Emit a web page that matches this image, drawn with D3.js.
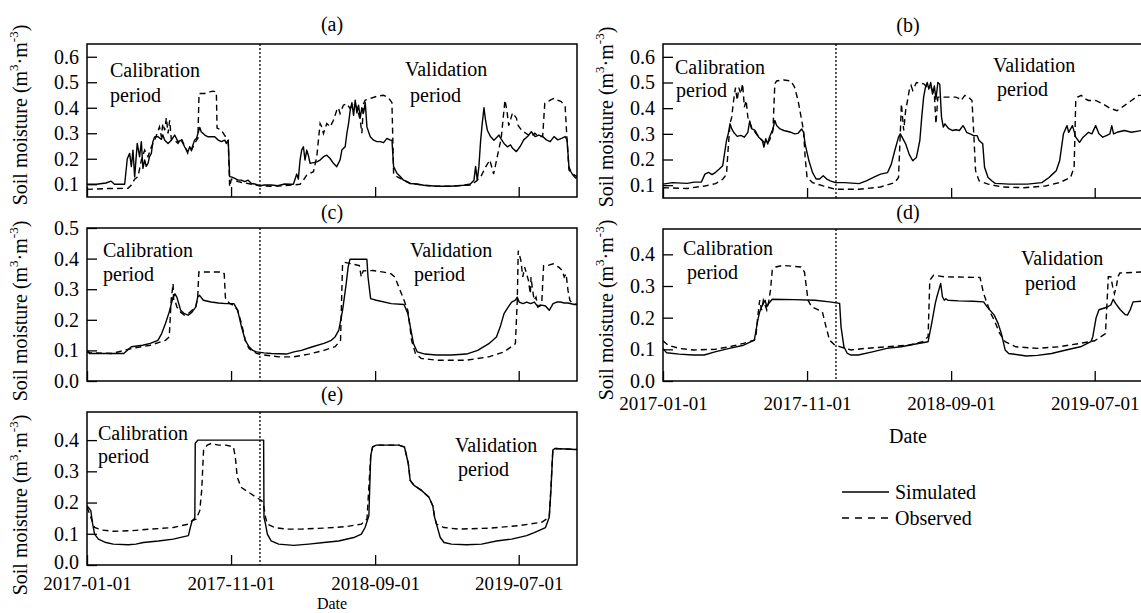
<!DOCTYPE html>
<html><head><meta charset="utf-8">
<script src="https://cdn.jsdelivr.net/npm/d3@7"></script>
<style>
body{margin:0;background:#fff}
svg{display:block}
text{font-family:"Liberation Serif","Times New Roman",serif;fill:#000}
</style>
</head><body>
<svg id="chart" width="1141" height="613"></svg>
<script>
// ---------- data (day offset from 2017-01-01, soil moisture m3/m3) ----------
const startDate = "2017-01-01";
const endDate = "2019-11-01";
const splitDate = "2018-01-01";
const xTickLabels = ["2017-01-01", "2017-11-01", "2018-09-01", "2019-07-01"];
const yTicksAB = [0.1, 0.2, 0.3, 0.4, 0.5, 0.6];
const yTicksC = [0.0, 0.1, 0.2, 0.3, 0.4, 0.5];
const yTicksDE = [0.0, 0.1, 0.2, 0.3, 0.4];
const seriesNames = ["Simulated", "Observed"];
const panelTitles = ["(a)", "(b)", "(c)", "(d)", "(e)"];

const simA = [[0,0.10],[20,0.10],[40,0.105],[51,0.112],[58,0.10],[79.5,0.10],[85,0.20],[90,0.221],[93.6,0.169],[97,0.234],[100.6,0.129],[106,0.26],[111,0.208],[114.7,0.267],[118,0.162],[121.7,0.195],[125,0.17],[128.8,0.182],[132,0.208],[135.8,0.221],[139,0.267],[142.9,0.286],[150,0.286],[157,0.276],[160,0.293],[164,0.273],[171,0.26],[178,0.273],[185,0.293],[192,0.267],[199,0.273],[206,0.247],[213,0.227],[216.7,0.247],[220,0.234],[227,0.273],[231,0.28],[238,0.323],[241,0.306],[248.6,0.293],[255.4,0.286],[263,0.286],[269.5,0.286],[277,0.273],[283.6,0.267],[291,0.273],[294,0.26],[298,0.273],[301,0.13],[304.7,0.129],[312,0.123],[318.8,0.116],[325.8,0.116],[333,0.11],[340,0.116],[347,0.103],[354,0.101],[364.5,0.094],[375,0.097],[389,0.097],[403,0.094],[417,0.101],[428.5,0.10],[435.5,0.10],[442.6,0.14],[446,0.12],[449.6,0.195],[453,0.234],[456.7,0.247],[460,0.195],[463.7,0.234],[467,0.214],[470.8,0.182],[477.8,0.185],[484.9,0.188],[491.9,0.195],[499,0.208],[506,0.214],[513,0.201],[520,0.182],[527,0.169],[534,0.195],[537.8,0.234],[544.8,0.247],[548.4,0.30],[551.9,0.338],[555.4,0.39],[559,0.42],[562.5,0.37],[566,0.43],[569.5,0.38],[573,0.41],[576.6,0.36],[580,0.40],[583.6,0.38],[587.2,0.42],[590.7,0.325],[597.7,0.286],[604.8,0.273],[611.8,0.267],[618.8,0.267],[625.9,0.263],[632.9,0.28],[640,0.273],[643.5,0.273],[647,0.169],[654,0.143],[661,0.13],[668,0.116],[675,0.11],[682,0.103],[696.7,0.101],[710.6,0.096],[738.8,0.092],[767,0.092],[795,0.096],[809,0.101],[816.6,0.116],[820,0.17],[823.6,0.116],[827,0.17],[830.7,0.273],[834,0.338],[837.7,0.40],[841,0.351],[844.8,0.312],[851.8,0.286],[858.8,0.273],[865.9,0.286],[869.4,0.293],[873,0.28],[880,0.26],[887,0.247],[894,0.254],[898,0.241],[906,0.228],[914,0.248],[921.6,0.274],[929.6,0.287],[937.6,0.306],[945.6,0.287],[953.5,0.293],[961.5,0.287],[969.5,0.274],[977.5,0.267],[985.5,0.287],[993.4,0.274],[1001.4,0.28],[1009,0.287],[1013,0.274],[1017,0.169],[1021,0.15],[1025,0.137],[1031,0.124],[1034,0.13]];
const obsA = [[0,0.08],[40,0.083],[86.6,0.084],[93.6,0.097],[100.6,0.12],[107.7,0.13],[114.7,0.195],[121.7,0.234],[128.8,0.208],[135.8,0.247],[142.9,0.273],[153,0.325],[157,0.286],[160,0.338],[164,0.312],[167.5,0.36],[171,0.299],[174.5,0.351],[178,0.273],[185,0.273],[192,0.26],[199,0.28],[206,0.25],[213,0.22],[220,0.23],[227,0.26],[234,0.28],[236.4,0.456],[248.6,0.456],[259,0.462],[266,0.465],[273,0.462],[274.4,0.32],[283.6,0.312],[291,0.29],[298,0.273],[301,0.09],[304.7,0.12],[312,0.116],[318.8,0.11],[333,0.105],[347,0.10],[364.5,0.094],[389,0.092],[417,0.094],[449.6,0.10],[456.7,0.116],[463.7,0.136],[470.8,0.143],[477.8,0.149],[484.9,0.208],[488.3,0.273],[491.9,0.338],[495.4,0.325],[499,0.299],[506,0.338],[513,0.325],[520,0.351],[527,0.39],[530.5,0.40],[534,0.377],[541,0.41],[548,0.416],[555,0.397],[562.5,0.416],[569.5,0.403],[576.6,0.351],[580,0.30],[583.6,0.416],[587.2,0.43],[597.7,0.436],[611.8,0.445],[625.9,0.449],[636,0.44],[643.5,0.42],[647,0.14],[654,0.13],[668,0.116],[682,0.103],[710.6,0.096],[738.8,0.092],[767,0.092],[809,0.097],[820,0.11],[830.7,0.129],[842,0.17],[850,0.195],[858,0.14],[866,0.21],[874,0.28],[882,0.43],[886,0.39],[890,0.33],[898,0.38],[906,0.36],[910,0.33],[918,0.31],[926,0.30],[937,0.287],[945,0.30],[953,0.287],[961.5,0.287],[966,0.417],[977.5,0.43],[985.5,0.437],[993,0.43],[1001,0.424],[1009,0.404],[1013,0.274],[1017,0.156],[1025,0.14],[1034,0.13]];

const simB = [[0,0.104],[20,0.11],[51,0.107],[66,0.112],[81,0.112],[88.5,0.143],[96,0.15],[103.6,0.141],[111,0.15],[118.8,0.163],[126,0.176],[134,0.274],[137.7,0.30],[141.4,0.339],[145,0.32],[149,0.306],[156.6,0.29],[164,0.294],[171.7,0.287],[179,0.306],[183,0.35],[186.8,0.32],[194.4,0.313],[202,0.287],[209.5,0.274],[213,0.248],[217,0.281],[221,0.26],[224.6,0.287],[232,0.319],[236,0.352],[239.8,0.332],[247,0.319],[255,0.313],[270,0.306],[277.6,0.30],[285,0.302],[292.7,0.319],[296.5,0.306],[300,0.26],[307.9,0.195],[315.4,0.15],[323,0.124],[330.5,0.124],[338,0.137],[345.7,0.124],[353,0.117],[363.8,0.11],[383.5,0.11],[413.7,0.106],[429,0.117],[444,0.13],[459,0.143],[474,0.149],[481.8,0.182],[489,0.234],[497,0.287],[500.7,0.30],[504.5,0.287],[512,0.261],[519.6,0.22],[527,0.195],[534.8,0.208],[542,0.274],[546,0.365],[550,0.443],[553.7,0.48],[557.5,0.50],[561,0.474],[565,0.50],[568.8,0.455],[572.6,0.487],[576,0.435],[580,0.50],[584,0.493],[587.7,0.365],[591.5,0.326],[595,0.339],[603,0.32],[610.5,0.313],[618,0.316],[625.5,0.313],[633,0.332],[637,0.32],[640.7,0.306],[648,0.30],[655.8,0.293],[663,0.293],[667,0.274],[674.7,0.261],[678.5,0.17],[686,0.13],[693.6,0.117],[701,0.107],[731,0.104],[769,0.104],[799.5,0.11],[814.6,0.13],[822,0.143],[829.8,0.156],[837,0.195],[845,0.30],[852.6,0.332],[856,0.306],[864,0.332],[871,0.287],[879,0.267],[886.5,0.287],[898,0.306],[905,0.30],[913,0.332],[920,0.30],[928,0.287],[935.5,0.293],[943,0.30],[947,0.332],[950.8,0.30],[958,0.306],[973.5,0.313],[988.6,0.306],[1010,0.313],[1034,0.31]];
const obsB = [[0,0.09],[51,0.087],[88.5,0.097],[111,0.106],[126,0.123],[134,0.143],[137.7,0.248],[141.4,0.34],[145,0.365],[149,0.43],[153,0.48],[156.6,0.43],[160,0.48],[164,0.456],[168,0.495],[171.7,0.404],[175.5,0.43],[179,0.365],[186.8,0.326],[194.4,0.306],[202,0.287],[209.5,0.274],[217,0.26],[224.6,0.274],[232,0.313],[236,0.495],[239.8,0.506],[255,0.51],[270,0.506],[277.6,0.482],[285,0.43],[292.7,0.352],[296.5,0.313],[300,0.208],[304,0.13],[315.4,0.11],[338,0.097],[363.8,0.084],[413.7,0.084],[459,0.093],[489,0.11],[497,0.13],[500.7,0.30],[503,0.417],[508,0.313],[512,0.391],[516,0.43],[519.6,0.469],[523.5,0.488],[527,0.469],[534.8,0.50],[550,0.495],[557.5,0.482],[565,0.482],[572.6,0.456],[576,0.339],[580,0.443],[595,0.443],[618,0.443],[625.5,0.437],[629,0.43],[637,0.45],[644.6,0.443],[652,0.43],[655.8,0.30],[659.6,0.156],[667,0.117],[686,0.104],[716,0.093],[762,0.09],[807,0.097],[837,0.11],[860,0.13],[867.6,0.17],[871,0.43],[875,0.443],[882.7,0.45],[890,0.437],[898,0.43],[913,0.43],[928,0.417],[943,0.40],[958,0.39],[973.5,0.41],[988.6,0.43],[1003.7,0.45],[1034,0.45]];

const simC = [[0,0.095],[5.6,0.09],[40,0.09],[77.6,0.09],[93.6,0.112],[117.6,0.117],[133.6,0.123],[149.6,0.133],[157.6,0.155],[165.6,0.188],[173.6,0.226],[177.6,0.25],[181.6,0.274],[185.6,0.285],[189.6,0.274],[193.6,0.253],[197.6,0.231],[205.6,0.22],[213.6,0.215],[221.6,0.225],[229.6,0.242],[233.6,0.274],[237.6,0.28],[245.6,0.264],[261.6,0.258],[277.6,0.255],[293.6,0.253],[310,0.253],[318,0.231],[326,0.177],[334,0.133],[341.9,0.112],[349.8,0.10],[357.7,0.095],[373.5,0.092],[389,0.09],[420.9,0.088],[436.7,0.095],[452.5,0.10],[476,0.112],[500,0.123],[515.6,0.133],[523.5,0.144],[531.4,0.166],[539.3,0.231],[547,0.318],[551,0.372],[555,0.398],[590.6,0.398],[593,0.34],[598.5,0.269],[610.4,0.264],[642,0.253],[669,0.25],[677,0.221],[685,0.155],[689,0.122],[697,0.095],[713,0.088],[737,0.085],[769,0.085],[800.6,0.088],[824.5,0.10],[848,0.122],[864,0.144],[872,0.177],[880,0.22],[888,0.24],[896,0.258],[904,0.264],[908,0.274],[912,0.258],[920,0.253],[928,0.258],[936,0.253],[944,0.258],[951.6,0.242],[959.6,0.248],[967.5,0.245],[975.5,0.231],[983.5,0.253],[991.5,0.258],[999,0.258],[1007,0.255],[1015,0.255],[1028.6,0.25],[1034,0.25]];
const obsC = [[0,0.10],[5.6,0.092],[53.6,0.09],[93.6,0.106],[133.6,0.117],[165.6,0.133],[173.6,0.144],[177.6,0.264],[181.6,0.318],[183,0.264],[185.6,0.264],[189.6,0.242],[197.6,0.225],[205.6,0.215],[213.6,0.22],[229.6,0.242],[233.6,0.274],[236,0.356],[285.6,0.356],[289.6,0.35],[292,0.274],[293.6,0.264],[301.6,0.253],[310,0.247],[318,0.231],[326,0.188],[334,0.133],[341.9,0.106],[357.7,0.09],[373.5,0.085],[405,0.079],[436.7,0.079],[468,0.088],[500,0.10],[523.5,0.112],[535,0.133],[539.3,0.383],[543,0.388],[574.8,0.377],[578.8,0.34],[582.7,0.36],[602.4,0.361],[626,0.356],[642,0.35],[650,0.339],[658,0.307],[669,0.264],[677,0.231],[685,0.133],[693,0.09],[705,0.074],[737,0.068],[800.6,0.068],[848,0.079],[880,0.095],[904,0.122],[908,0.264],[910,0.426],[915.6,0.394],[919.6,0.34],[923.6,0.372],[931.5,0.329],[935.5,0.285],[937,0.34],[939.5,0.307],[943.5,0.264],[947.5,0.274],[951.6,0.242],[959.6,0.253],[963.5,0.377],[971.5,0.377],[983.5,0.383],[995.4,0.372],[1003,0.361],[1007,0.34],[1011,0.35],[1015,0.296],[1019,0.264],[1023,0.255],[1034,0.25]];

const simD = [[0,0.103],[7.6,0.089],[34,0.085],[64,0.082],[87,0.082],[109.6,0.092],[140,0.103],[170,0.113],[192.8,0.129],[200,0.192],[204,0.218],[208,0.234],[215.5,0.255],[219,0.234],[223,0.245],[230.6,0.258],[276,0.257],[321,0.255],[351.5,0.25],[372.7,0.245],[375.7,0.171],[381.8,0.108],[389,0.087],[397,0.082],[412,0.082],[442,0.092],[472.5,0.103],[502.7,0.108],[533,0.117],[559.4,0.124],[567,0.182],[574.6,0.245],[578,0.266],[582,0.287],[586,0.308],[589.7,0.266],[593.5,0.255],[597,0.26],[601,0.255],[623.7,0.253],[654,0.252],[676.6,0.25],[684,0.234],[699,0.208],[707,0.182],[714,0.15],[722,0.098],[729.5,0.087],[767,0.079],[790,0.081],[820,0.087],[850.5,0.098],[881,0.108],[903,0.124],[907,0.14],[914,0.20],[920,0.225],[935,0.232],[945,0.24],[950,0.258],[955,0.245],[965,0.225],[975,0.21],[980,0.208],[986,0.225],[992,0.25],[1010,0.252],[1034,0.252]];
const obsD = [[0,0.127],[11,0.113],[34,0.103],[64,0.098],[109.6,0.10],[140,0.108],[170,0.119],[192.8,0.129],[196.6,0.15],[200,0.203],[204,0.255],[208,0.224],[211.7,0.255],[219,0.224],[223,0.25],[226.8,0.287],[230.6,0.35],[238,0.36],[253,0.365],[291,0.36],[298.6,0.344],[306,0.255],[313.7,0.234],[328.9,0.224],[336.4,0.218],[344,0.171],[351.5,0.129],[363,0.113],[374,0.108],[397,0.098],[427,0.103],[472.5,0.108],[518,0.113],[548,0.124],[559.4,0.14],[563,0.318],[570.8,0.334],[593.5,0.329],[669,0.327],[676.6,0.276],[684,0.245],[691.7,0.213],[699,0.192],[710.6,0.15],[722,0.124],[744.7,0.108],[790,0.103],[835,0.108],[881,0.119],[911,0.127],[933.7,0.15],[939.7,0.329],[945,0.329],[949,0.297],[952.6,0.276],[956.6,0.297],[960,0.329],[964,0.341],[1007.7,0.344],[1034,0.344]];

const simE = [[0,0.19],[8,0.174],[12,0.131],[16,0.099],[24,0.083],[40,0.072],[55.5,0.067],[87,0.065],[103,0.067],[119,0.072],[150.7,0.077],[182,0.083],[214,0.094],[218,0.12],[222,0.142],[226,0.147],[227.6,0.153],[228.4,0.39],[234,0.40],[372.7,0.40],[373.5,0.153],[376.7,0.131],[380.6,0.099],[388.6,0.077],[404.4,0.067],[436,0.063],[468,0.067],[499.6,0.072],[531,0.077],[563,0.088],[579,0.099],[586.8,0.12],[594.8,0.158],[598.7,0.35],[602.7,0.378],[610.6,0.384],[658,0.384],[670,0.378],[678,0.325],[682,0.271],[690,0.255],[698,0.247],[705.8,0.239],[713.7,0.228],[721.6,0.217],[729.6,0.19],[733.5,0.153],[737.5,0.131],[745.4,0.088],[753.4,0.072],[769,0.067],[801,0.065],[832.6,0.067],[864,0.077],[896,0.083],[927.8,0.094],[943.7,0.104],[967.5,0.12],[975.4,0.153],[979,0.239],[983,0.368],[987,0.373],[1031,0.37],[1034,0.37]];
const obsE = [[0,0.185],[8,0.153],[16,0.12],[31.7,0.112],[55.5,0.108],[95,0.11],[135,0.115],[182,0.12],[214,0.131],[222,0.142],[230,0.147],[238,0.174],[242,0.239],[246,0.368],[253.8,0.384],[261.7,0.389],[277.6,0.384],[293.4,0.384],[309,0.378],[313,0.346],[317,0.282],[325,0.249],[341,0.233],[357,0.217],[368.7,0.206],[372.7,0.19],[376.7,0.153],[380.6,0.131],[396.5,0.12],[420,0.115],[452,0.115],[499.6,0.118],[547,0.123],[579,0.131],[590.8,0.147],[598.7,0.35],[602.7,0.378],[610.6,0.384],[658,0.384],[670,0.378],[678,0.325],[682,0.271],[690,0.255],[705.8,0.239],[721.6,0.217],[729.6,0.19],[733.5,0.153],[737.5,0.131],[753.4,0.12],[785,0.115],[848.5,0.118],[912,0.126],[959.5,0.137],[975.4,0.153],[979,0.25],[983,0.368],[987,0.373],[1031,0.37],[1034,0.37]];

// ---------- layout ----------
const FONT = 20;
const panels = [
  {title:panelTitles[0], x:87,  y:44,  w:490, h:153, yDomain:[0.05,0.65], yTicks:yTicksAB, sim:simA, obs:obsA, xLabels:false, titleDy:-13, ylabX:20,  ylabY:115,
   ann:[["Calibration",23,33],["period",23,58],["Validation",318,32],["period",323,58]]},
  {title:panelTitles[1], x:663, y:44,  w:490, h:154, yDomain:[0.05,0.65], yTicks:yTicksAB, sim:simB, obs:obsB, xLabels:false, titleDy:-12, ylabX:606, ylabY:117,
   ann:[["Calibration",12,30],["period",13,53],["Validation",330,28],["period",334,52]]},
  {title:panelTitles[2], x:87,  y:228, w:490, h:153, yDomain:[0,0.5], yTicks:yTicksC, sim:simC, obs:obsC, xLabels:false, titleDy:-9, ylabX:20, ylabY:311,
   ann:[["Calibration",16,29],["period",16,53],["Validation",323,29],["period",327,53]]},
  {title:panelTitles[3], x:663, y:229, w:490, h:152, yDomain:[0,0.48], yTicks:yTicksDE, sim:simD, obs:obsD, xLabels:true, titleDy:-10, ylabX:606, ylabY:310,
   tickPad:16, xFont:19, dateDy:62, dateSize:20, zeroDy:"0.32em",
   ann:[["Calibration",20,26],["period",24,50],["Validation",358,36],["period",362,61]]},
  {title:panelTitles[4], x:87,  y:412, w:490, h:153, yDomain:[0,0.49], yTicks:yTicksDE, sim:simE, obs:obsE, xLabels:true, titleDy:-11, ylabX:20, ylabY:505,
   tickPad:11.5, xFont:19, dateDy:44, dateSize:16, zeroDy:"0.15em",
   ann:[["Calibration",11,28],["period",11,51],["Validation",368,40],["period",371,64]]}
];

const svg = d3.select("#chart");
const parse = d3.timeParse("%Y-%m-%d");
const t0 = parse(startDate), t1 = parse(endDate), tSplit = parse(splitDate);
const toDate = day => d3.timeHour.offset(t0, Math.round(day * 24));
const fmt = d3.format(".1f");

panels.forEach((p, i) => {
  const g = svg.append("g").attr("transform", `translate(${p.x},${p.y})`);
  const x = d3.scaleTime().domain([t0, t1]).range([0, p.w]);
  const y = d3.scaleLinear().domain(p.yDomain).range([p.h, 0]);

  const clipId = "clip" + i;
  g.append("clipPath").attr("id", clipId).append("rect").attr("width", p.w).attr("height", p.h);

  const line = d3.line().x(d => x(toDate(d[0]))).y(d => y(d[1]));
  const plot = g.append("g").attr("clip-path", `url(#${clipId})`);
  plot.append("path").datum(p.obs).attr("d", line)
    .attr("fill", "none").attr("stroke", "#000").attr("stroke-width", 1.4).attr("stroke-dasharray", "6,4");
  plot.append("path").datum(p.sim).attr("d", line)
    .attr("fill", "none").attr("stroke", "#000").attr("stroke-width", 1.4).attr("stroke-linejoin", "round");

  // divider between calibration and validation
  g.append("line").attr("x1", x(tSplit)).attr("x2", x(tSplit)).attr("y1", 0).attr("y2", p.h)
    .attr("stroke", "#000").attr("stroke-width", 1.3).attr("stroke-dasharray", "2,2");

  // axes
  const ya = g.append("g").call(d3.axisLeft(y).tickValues(p.yTicks).tickSize(-10).tickPadding(8).tickFormat(fmt));
  const xa = g.append("g").attr("transform", `translate(0,${p.h})`)
    .call(d3.axisBottom(x).tickValues(xTickLabels.map(parse)).tickSize(-10).tickPadding(p.tickPad || 16)
      .tickFormat(p.xLabels ? d3.timeFormat("%Y-%m-%d") : () => ""));
  [ya, xa].forEach(a => {
    a.select(".domain").remove();
    a.selectAll(".tick line").attr("stroke", "#000").attr("stroke-width", 1.3);
    a.selectAll("text").attr("font-size", FONT).attr("font-family", "Liberation Serif").attr("fill", "#000");
  });
  if (p.xFont) xa.selectAll("text").attr("font-size", p.xFont);
  if (p.zeroDy) ya.selectAll(".tick text").filter(d => d === 0).attr("dy", p.zeroDy);

  // frame
  g.append("rect").attr("width", p.w).attr("height", p.h)
    .attr("fill", "none").attr("stroke", "#000").attr("stroke-width", 1.5);

  // title
  g.append("text").attr("x", p.w / 2).attr("y", p.titleDy).attr("text-anchor", "middle")
    .attr("font-size", FONT).text(p.title);

  // annotations
  p.ann.forEach(a => {
    g.append("text").attr("x", a[1]).attr("y", a[2]).attr("font-size", FONT).text(a[0]);
  });

  // y label
  const yl = svg.append("text").attr("transform", `translate(${p.ylabX},${p.ylabY}) rotate(-90)`)
    .attr("text-anchor", "middle").attr("font-size", FONT).attr("dominant-baseline", "central");
  yl.append("tspan").text("Soil moisture (m");
  yl.append("tspan").attr("dy", -7).attr("font-size", 13).text("3");
  yl.append("tspan").attr("dy", 7).text("·m");
  yl.append("tspan").attr("dy", -7).attr("font-size", 13).text("-3");
  yl.append("tspan").attr("dy", 7).text(")");

  if (p.xLabels) {
    g.append("text").attr("x", p.w / 2).attr("y", p.h + p.dateDy).attr("text-anchor", "middle")
      .attr("font-size", p.dateSize).text("Date");
  }
});

// legend
const lg = svg.append("g").attr("transform", "translate(842,492)");
seriesNames.forEach((name, i) => {
  lg.append("line").attr("x1", 0).attr("x2", 47).attr("y1", i * 26).attr("y2", i * 26)
    .attr("stroke", "#000").attr("stroke-width", 1.4).attr("stroke-dasharray", i === 0 ? null : "7,6");
  lg.append("text").attr("x", 53).attr("y", i * 26 + 7).attr("font-size", FONT).text(name);
});
</script>
</body></html>
